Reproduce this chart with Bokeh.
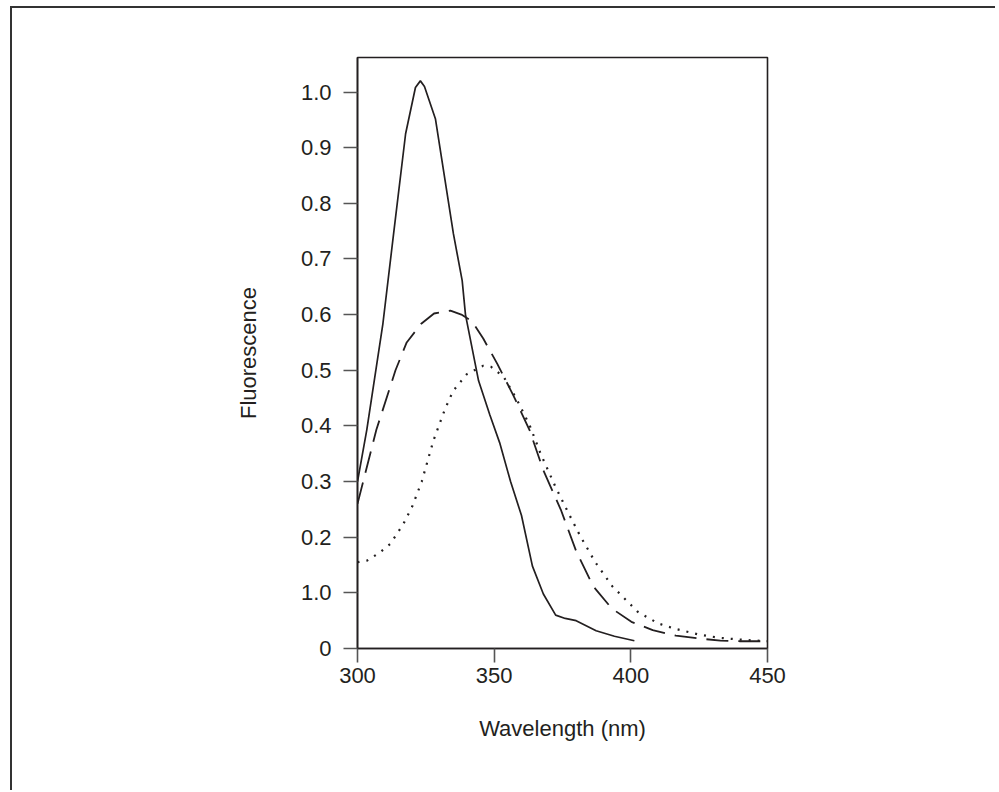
from bokeh.plotting import figure
from bokeh.models import FixedTicker, Range1d
from bokeh.embed import file_html
from bokeh.resources import INLINE

# ---- data ----
solid_x = [300, 303.4, 309.3, 313.2, 317.6, 321.2, 323.0, 324.5, 328.5, 335.1, 338.3, 339.5,
           344.3, 348.4, 352, 356, 360, 364, 368, 372.5, 376, 380, 387.3, 394, 401.3]
solid_y = [0.30, 0.393, 0.584, 0.745, 0.925, 1.008, 1.020, 1.01, 0.952, 0.745, 0.661, 0.60,
           0.481, 0.42, 0.37, 0.30, 0.239, 0.148, 0.098, 0.060, 0.054, 0.050, 0.032, 0.022, 0.014]

dashed_x = [300, 306.9, 313.9, 318, 323.2, 328, 334, 338, 341.9, 346, 351.2, 357, 362.9, 368,
            374.5, 380, 386.2, 393, 400.2, 408, 416.5, 425, 432.8, 440, 450]
dashed_y = [0.26, 0.393, 0.50, 0.55, 0.583, 0.602, 0.607, 0.60, 0.588, 0.557, 0.511, 0.455,
            0.393, 0.32, 0.248, 0.175, 0.112, 0.072, 0.048, 0.033, 0.023, 0.018, 0.014, 0.013, 0.013]

dotted_x = [300, 303.5, 308, 312, 316.8, 320, 323.5, 327.8, 332, 335, 340, 346, 348.9, 353.5,
            358, 362.9, 367, 372.2, 377, 381.5, 387, 393.2, 402.5, 410, 416.5, 425, 432.8, 440, 450]
dotted_y = [0.155, 0.158, 0.172, 0.188, 0.224, 0.255, 0.30, 0.374, 0.43, 0.463, 0.493, 0.508,
            0.506, 0.488, 0.45, 0.402, 0.35, 0.293, 0.245, 0.202, 0.155, 0.112, 0.066, 0.045,
            0.035, 0.025, 0.019, 0.016, 0.013]

x_ticks = [300, 350, 400, 450]
y_ticks = [0, 0.1, 0.2, 0.3, 0.4, 0.5, 0.6, 0.7, 0.8, 0.9, 1.0]
y_tick_labels = ["0", "1.0", "0.2", "0.3", "0.4", "0.5", "0.6", "0.7", "0.8", "0.9", "1.0"]

x_label = "Wavelength (nm)"
y_label = "Fluorescence"

INK = "#231f20"
FONT = "Liberation Sans"

p = figure(width=985, height=784, output_backend="svg", toolbar_location=None,
           x_range=Range1d(300, 450), y_range=Range1d(0, 1.062),
           min_border_left=345, min_border_right=230, min_border_top=49, min_border_bottom=144)

# outer panel border: only its left and top edges fall inside the window
p.styles = {"margin-left": "10px", "margin-top": "6px",
            "border-left": "2px solid #333333", "border-top": "2px solid #333333"}

p.grid.visible = False
p.outline_line_color = INK
p.outline_line_width = 1.6
p.background_fill_color = "white"
p.border_fill_color = "white"

p.line(solid_x, solid_y, line_color=INK, line_width=1.7)
p.line(dashed_x, dashed_y, line_color=INK, line_width=1.8, line_dash="22 10")
p.line(dotted_x, dotted_y, line_color=INK, line_width=2.2, line_dash="2 7")

for ax in (p.xaxis[0], p.yaxis[0]):
    ax.axis_line_color = INK
    ax.axis_line_width = 1.6
    ax.major_tick_line_color = "#555555"
    ax.major_tick_line_width = 1.6
    ax.major_tick_in = 0
    ax.major_tick_out = 14
    ax.minor_tick_line_color = None
    ax.major_label_text_font = FONT
    ax.major_label_text_font_size = "22px"
    ax.major_label_text_color = INK
    ax.axis_label_text_font = FONT
    ax.axis_label_text_font_size = "22px"
    ax.axis_label_text_font_style = "normal"
    ax.axis_label_text_color = INK

p.xaxis.ticker = FixedTicker(ticks=x_ticks)
p.xaxis.major_label_standoff = 5
p.xaxis.axis_label = x_label
p.xaxis.axis_label_standoff = 30

p.yaxis.ticker = FixedTicker(ticks=y_ticks)
p.yaxis.major_label_overrides = {t: s for t, s in zip(y_ticks, y_tick_labels)}
p.yaxis.major_label_standoff = 12
p.yaxis.axis_label = y_label
p.yaxis.axis_label_standoff = 37

open("out.html", "w").write(file_html(p, INLINE))
